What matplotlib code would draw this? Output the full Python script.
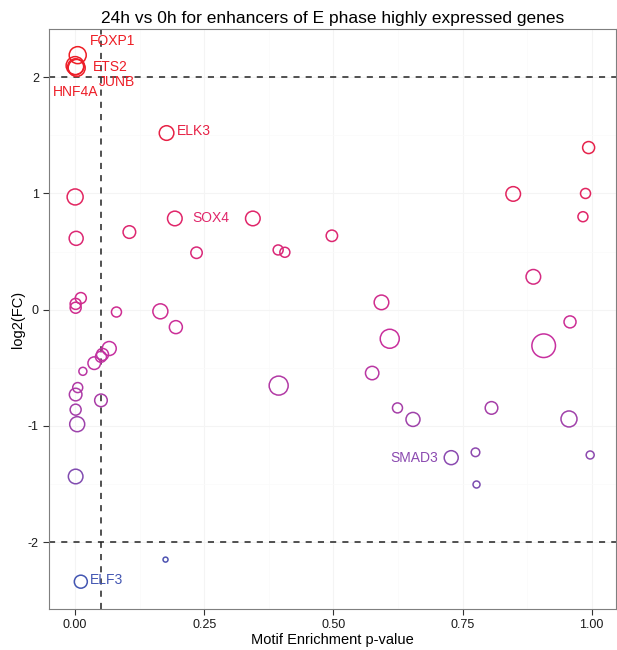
import matplotlib
matplotlib.use("Agg")
import matplotlib.pyplot as plt
import numpy as np
from matplotlib.colors import LinearSegmentedColormap, Normalize

plt.rcParams['font.family'] = ['Liberation Sans', 'DejaVu Sans']
plt.rcParams['axes.unicode_minus'] = False

# ---- data ----
pvalue = [0.005, 0.000, 0.003, 0.001, 0.177, 0.994, 0.848, 0.988, 0.000, 0.983,
          0.193, 0.344, 0.105, 0.497, 0.002, 0.393, 0.406, 0.235, 0.887, 0.011,
          0.593, 0.001, 0.001, 0.080, 0.165, 0.958, 0.195, 0.609, 0.907, 0.066,
          0.053, 0.050, 0.037, 0.015, 0.575, 0.394, 0.005, 0.001, 0.050, 0.624,
          0.806, 0.001, 0.956, 0.654, 0.004, 0.997, 0.775, 0.728, 0.001, 0.777,
          0.175, 0.011]
log2fc = [2.19, 2.10, 2.08, 2.09, 1.52, 1.395, 0.996, 1.00, 0.97, 0.80,
          0.785, 0.785, 0.668, 0.636, 0.614, 0.514, 0.494, 0.49, 0.283, 0.10,
          0.063, 0.05, 0.017, -0.02, -0.014, -0.105, -0.15, -0.25, -0.31, -0.334,
          -0.385, -0.405, -0.46, -0.53, -0.545, -0.653, -0.67, -0.73, -0.78, -0.845,
          -0.845, -0.86, -0.94, -0.944, -0.985, -1.25, -1.227, -1.273, -1.435, -1.504,
          -2.15, -2.34]
site_size = [8.5, 9.0, 8.5, 8.0, 7.3, 6.0, 7.3, 5.0, 8.0, 5.0,
             7.3, 7.3, 6.3, 5.7, 7.0, 5.0, 5.0, 5.7, 7.3, 5.5,
             7.3, 5.5, 5.5, 5.0, 7.5, 6.0, 6.5, 9.5, 11.8, 7.0,
             6.0, 5.5, 6.3, 4.0, 6.7, 9.5, 5.0, 6.3, 6.3, 5.0,
             6.3, 5.5, 8.0, 7.0, 7.5, 4.0, 4.3, 7.0, 7.3, 3.5,
             2.5, 6.5]
gene_labels = {0: "FOXP1", 2: "ETS2", 1: "JUNB", 3: "HNF4A", 4: "ELK3",
               10: "SOX4", 47: "SMAD3", 51: "ELF3"}
# label offsets in pixels (dx, dy) and horizontal alignment
label_pos = {0: (12, 14, 'left'), 2: (16, 1, 'left'), 1: (24, -16, 'left'),
             3: (0, -25, 'center'), 4: (10, 2, 'left'), 10: (17, 0, 'left'),
             47: (-13, 0, 'right'), 51: (9, 2, 'left')}

p_cut = 0.05
fc_cut = [2, -2]

x = np.array(pvalue)
y = np.array(log2fc)
r = np.array(site_size)

cmap = LinearSegmentedColormap.from_list(
    "fc", [(0.0, "#4356B2"), (0.23, "#8A4BB0"), (0.45, "#C8309F"),
           (0.69, "#E0266A"), (1.0, "#EE1D24")])
norm = Normalize(vmin=y.min(), vmax=y.max())
colors = cmap(norm(y))

fig = plt.figure(figsize=(6.17, 6.5), dpi=100)
ax = fig.add_axes([49.3/617, 1-609/650, (616-49.3)/617, (609-29)/650])

ax.set_xlim(-0.05, 1.047)
ax.set_ylim(-2.575, 2.415)

# grid
ax.set_xticks([0, 0.25, 0.5, 0.75, 1.0])
ax.set_xticks([0.125, 0.375, 0.625, 0.875], minor=True)
ax.set_yticks([-2, -1, 0, 1, 2])
ax.set_yticks([-1.5, -0.5, 0.5, 1.5], minor=True)
ax.grid(True, which='major', color='#F4F4F4', linewidth=0.8)
ax.grid(True, which='minor', color='#FAFAFA', linewidth=0.5)
ax.set_axisbelow(True)
ax.tick_params(which='minor', length=0)
ax.tick_params(which='major', length=4, width=0.8, color='#333333',
               labelsize=9, labelcolor='#1a1a1a')
ax.set_xticklabels(["0.00", "0.25", "0.50", "0.75", "1.00"])
for s in ax.spines.values():
    s.set_color('#7F7F7F')
    s.set_linewidth(0.8)

ax.axvline(p_cut, color='#222222', linestyle=(0, (4, 4)), linewidth=1.1, zorder=1)
for h in fc_cut:
    ax.axhline(h, color='#222222', linestyle=(0, (4, 4)), linewidth=1.1, zorder=1)

s = (2 * r * 0.72) ** 2
ax.scatter(x, y, s=s, facecolors='none', edgecolors=colors, linewidths=1.1, zorder=3)

for i, name in gene_labels.items():
    dx, dy, ha = label_pos[i]
    ax.annotate(name, (x[i], y[i]), xytext=(dx, dy), textcoords='offset pixels',
                ha=ha, va='center', fontsize=10, color=colors[i], zorder=4)

ax.set_title("24h vs 0h for enhancers of E phase highly expressed genes",
             fontsize=12.5, pad=4)
ax.set_xlabel("Motif Enrichment p-value", fontsize=10.5, labelpad=1)
ax.set_ylabel("log2(FC)", fontsize=10.5, labelpad=2)

fig.savefig("out.png", dpi=100)
